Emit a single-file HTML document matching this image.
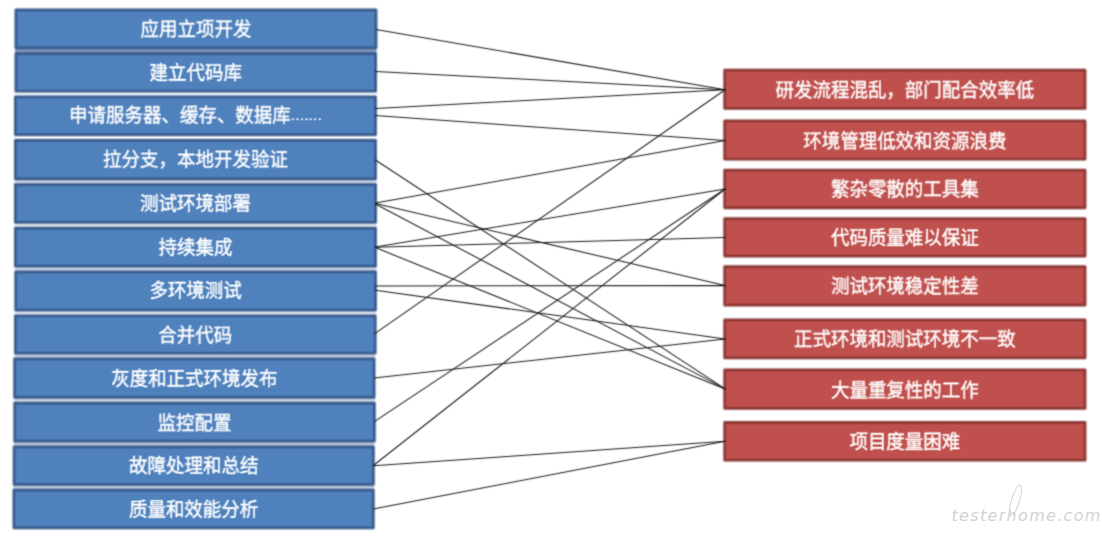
<!DOCTYPE html>
<html lang="zh-CN">
<head>
<meta charset="utf-8">
<title>研发流程问题关联图</title>
<style>
html,body{margin:0;padding:0;background:#fff;}
body{width:1102px;height:537px;position:relative;overflow:hidden;
 font-family:"Liberation Sans","Noto Sans CJK SC",sans-serif;}
#chart{position:absolute;left:0;top:0;display:block;}
#chart text{font-family:"Liberation Sans","Noto Sans CJK SC",sans-serif;font-size:18.5px;fill:#fff;text-anchor:middle;stroke:#fff;stroke-width:0.35px;}
.lb rect{fill:#4f81bd;stroke:#375a8b;stroke-linejoin:round;stroke-width:2.7;}
.rb rect{fill:#c0504d;stroke:#8a3634;stroke-linejoin:round;stroke-width:2.7;}
.ln line{stroke:#1c1c1c;stroke-width:1.05;stroke-linecap:round;}
#chart .dots{font-size:16px;stroke-width:0.15px;}
.wm{position:absolute;left:951.5px;top:504.1px;font-family:"DejaVu Sans","Liberation Sans",sans-serif;
 font-weight:200;font-style:italic;font-size:16px;letter-spacing:1.32px;color:#d2d2d2;white-space:nowrap;line-height:24px;}
.wm i{position:absolute;left:59.5px;top:-20.5px;width:9px;height:33px;border:1.2px solid #cfcfcf;border-radius:50%;transform:rotate(17deg);box-sizing:border-box;}
</style>
</head>
<body>
<svg id="chart" width="1102" height="537" viewBox="0 0 1102 537">
<defs>
<filter id="fb" filterUnits="userSpaceOnUse" x="0" y="0" width="1102" height="537" color-interpolation-filters="sRGB"><feConvolveMatrix order="3" kernelMatrix="0.0900 0.1200 0.0900 0.1200 0.1600 0.1200 0.0900 0.1200 0.0900" edgeMode="none"/></filter>
<filter id="fl" filterUnits="userSpaceOnUse" x="0" y="0" width="1102" height="537" color-interpolation-filters="sRGB"><feConvolveMatrix order="3" kernelMatrix="0.0289 0.1122 0.0289 0.1122 0.4356 0.1122 0.0289 0.1122 0.0289" edgeMode="none"/></filter>
<filter id="ft1" filterUnits="userSpaceOnUse" x="0" y="0" width="1102" height="537" color-interpolation-filters="sRGB"><feConvolveMatrix order="3" kernelMatrix="0.0800 0.2400 0.0800 0.1200 0.3600 0.1200 0.0000 0.0000 0.0000" edgeMode="none"/></filter>
<filter id="ft5" filterUnits="userSpaceOnUse" x="0" y="0" width="1102" height="537" color-interpolation-filters="sRGB"><feConvolveMatrix order="3" kernelMatrix="0.0400 0.1200 0.0400 0.1200 0.3600 0.1200 0.0400 0.1200 0.0400" edgeMode="none"/></filter>
<filter id="ft6" filterUnits="userSpaceOnUse" x="0" y="0" width="1102" height="537" color-interpolation-filters="sRGB"><feConvolveMatrix order="3" kernelMatrix="0.0300 0.0900 0.0300 0.1200 0.3600 0.1200 0.0500 0.1500 0.0500" edgeMode="none"/></filter>
<filter id="ft7" filterUnits="userSpaceOnUse" x="0" y="0" width="1102" height="537" color-interpolation-filters="sRGB"><feConvolveMatrix order="3" kernelMatrix="0.0200 0.0600 0.0200 0.1200 0.3600 0.1200 0.0600 0.1800 0.0600" edgeMode="none"/></filter>
<filter id="ft8" filterUnits="userSpaceOnUse" x="0" y="0" width="1102" height="537" color-interpolation-filters="sRGB"><feConvolveMatrix order="3" kernelMatrix="0.0100 0.0300 0.0100 0.1200 0.3600 0.1200 0.0700 0.2100 0.0700" edgeMode="none"/></filter>
<filter id="ft9" filterUnits="userSpaceOnUse" x="0" y="0" width="1102" height="537" color-interpolation-filters="sRGB"><feConvolveMatrix order="3" kernelMatrix="0.0000 0.0000 0.0000 0.1200 0.3600 0.1200 0.0800 0.2400 0.0800" edgeMode="none"/></filter>
</defs>
<g class="lb" filter="url(#fb)">
<rect x="15.0" y="48.4" width="361.5" height="4.6" style="fill:#7f96b8;stroke:none"/>
<rect x="15.0" y="91.8" width="361.4" height="4.6" style="fill:#f4f6fa;stroke:none"/>
<rect x="14.5" y="135.3" width="361.9" height="4.6" style="fill:#eef1f6;stroke:none"/>
<rect x="14.5" y="179.4" width="361.9" height="4.6" style="fill:#cdd5e4;stroke:none"/>
<rect x="14.5" y="222.9" width="361.9" height="4.6" style="fill:#e4e8f0;stroke:none"/>
<rect x="14.8" y="266.7" width="361.6" height="4.6" style="fill:#d0d8e6;stroke:none"/>
<rect x="14.8" y="310.6" width="361.3" height="4.6" style="fill:#e2e7f0;stroke:none"/>
<rect x="14.5" y="353.8" width="360.5" height="4.6" style="fill:#c6cfdf;stroke:none"/>
<rect x="13.8" y="397.9" width="361.2" height="4.6" style="fill:#ced6e4;stroke:none"/>
<rect x="13.8" y="441.7" width="360.5" height="4.6" style="fill:#bcc7da;stroke:none"/>
<rect x="13.2" y="485.0" width="361.0" height="4.6" style="fill:#bec8da;stroke:none"/>
<rect x="15.85" y="9.95" width="360.20" height="37.90"/>
<rect x="15.85" y="53.55" width="359.80" height="37.70"/>
<rect x="15.35" y="96.95" width="360.20" height="37.80"/>
<rect x="15.35" y="140.45" width="360.20" height="38.40"/>
<rect x="15.35" y="184.55" width="360.30" height="37.80"/>
<rect x="15.35" y="228.05" width="360.20" height="38.10"/>
<rect x="15.65" y="271.85" width="359.90" height="38.20"/>
<rect x="15.35" y="315.75" width="359.90" height="37.50"/>
<rect x="14.55" y="358.95" width="359.60" height="38.40"/>
<rect x="14.65" y="403.05" width="359.80" height="38.10"/>
<rect x="14.05" y="446.85" width="359.40" height="37.60"/>
<rect x="13.85" y="490.15" width="359.50" height="37.80"/>
</g>
<g class="rb" filter="url(#fb)">
<rect x="724.65" y="70.05" width="360.40" height="38.40"/>
<rect x="724.65" y="120.95" width="360.40" height="38.30"/>
<rect x="724.65" y="170.05" width="360.40" height="37.80"/>
<rect x="724.65" y="218.65" width="360.40" height="37.45"/>
<rect x="724.65" y="266.65" width="360.40" height="38.50"/>
<rect x="724.65" y="319.85" width="360.40" height="38.10"/>
<rect x="724.65" y="369.90" width="360.40" height="38.55"/>
<rect x="724.65" y="422.30" width="360.40" height="37.95"/>
</g>
<g class="ln" filter="url(#fl)">
<line x1="375.9" y1="29.5" x2="725.1" y2="89.7"/>
<line x1="375.5" y1="71.5" x2="725.1" y2="89.7"/>
<line x1="375.4" y1="108.6" x2="725.1" y2="89.7"/>
<line x1="375.4" y1="115.5" x2="725.1" y2="140.6"/>
<line x1="375.4" y1="160.0" x2="725.1" y2="388.9"/>
<line x1="375.5" y1="203.0" x2="725.1" y2="140.6"/>
<line x1="375.5" y1="203.5" x2="725.1" y2="285.6"/>
<line x1="375.5" y1="204.0" x2="725.1" y2="388.9"/>
<line x1="375.4" y1="247.0" x2="725.1" y2="189.0"/>
<line x1="375.4" y1="247.3" x2="725.1" y2="237.4"/>
<line x1="375.4" y1="247.6" x2="725.1" y2="388.9"/>
<line x1="375.4" y1="286.0" x2="725.1" y2="285.6"/>
<line x1="375.4" y1="290.3" x2="725.1" y2="338.9"/>
<line x1="375.1" y1="333.4" x2="725.1" y2="89.7"/>
<line x1="374.0" y1="378.0" x2="725.1" y2="338.9"/>
<line x1="374.3" y1="421.6" x2="725.1" y2="189.0"/>
<line x1="373.3" y1="465.5" x2="725.1" y2="189.0"/>
<line x1="373.3" y1="465.8" x2="725.1" y2="441.3"/>
<line x1="373.2" y1="508.9" x2="725.1" y2="441.3"/>
</g>
<g class="tx">
<g filter="url(#ft5)"><text transform="translate(195.95 36) scale(1 1.05)">应用立项开发</text></g>
<g filter="url(#ft1)"><text transform="translate(195.75 80) scale(1 1.05)">建立代码库</text></g>
<g filter="url(#ft7)"><text transform="translate(195.45 122) scale(1 1.05)">申请服务器、缓存、数据库<tspan class="dots" dy="-1.7">.......</tspan></text></g>
<g filter="url(#ft8)"><text transform="translate(195.45 166) scale(1 1.05)">拉分支，本地开发验证</text></g>
<g filter="url(#ft9)"><text transform="translate(195.50 210) scale(1 1.05)">测试环境部署</text></g>
<g filter="url(#ft9)"><text transform="translate(195.45 254) scale(1 1.05)">持续集成</text></g>
<g filter="url(#ft9)"><text transform="translate(195.60 297) scale(1 1.05)">多环境测试</text></g>
<g filter="url(#ft6)"><text transform="translate(195.30 342) scale(1 1.05)">合并代码</text></g>
<g filter="url(#ft1)"><text transform="translate(194.35 386) scale(1 1.05)">灰度和正式环境发布</text></g>
<g filter="url(#ft5)"><text transform="translate(194.55 430) scale(1 1.05)">监控配置</text></g>
<g filter="url(#ft1)"><text transform="translate(193.75 473) scale(1 1.05)">故障处理和总结</text></g>
<g filter="url(#ft9)"><text transform="translate(193.60 516) scale(1 1.05)">质量和效能分析</text></g>
<g filter="url(#ft5)"><text transform="translate(904.85 97) scale(1 1.05)">研发流程混乱，部门配合效率低</text></g>
<g filter="url(#ft5)"><text transform="translate(904.85 148) scale(1 1.05)">环境管理低效和资源浪费</text></g>
<g filter="url(#ft5)"><text transform="translate(904.85 196) scale(1 1.05)">繁杂零散的工具集</text></g>
<g filter="url(#ft1)"><text transform="translate(904.85 245) scale(1 1.05)">代码质量难以保证</text></g>
<g filter="url(#ft5)"><text transform="translate(904.85 293) scale(1 1.05)">测试环境稳定性差</text></g>
<g filter="url(#ft5)"><text transform="translate(904.85 346) scale(1 1.05)">正式环境和测试环境不一致</text></g>
<g filter="url(#ft7)"><text transform="translate(904.85 397) scale(1 1.05)">大量重复性的工作</text></g>
<g filter="url(#ft1)"><text transform="translate(904.85 449) scale(1 1.05)">项目度量困难</text></g>
</g>
</svg>
<div class="wm">testerhome.com<i></i></div>
</body>
</html>
